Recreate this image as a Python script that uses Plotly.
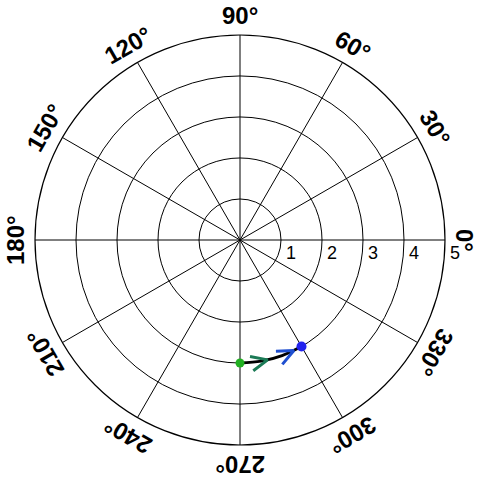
import math
import plotly.graph_objects as go

# ---- data ----
angle_ticks = [0, 30, 60, 90, 120, 150, 180, 210, 240, 270, 300, 330]
angle_labels = [f"{a}°" for a in angle_ticks]
radial_ticks = [1, 2, 3, 4, 5]
radial_labels = ["1", "2", "3", "4", "5"]

# trajectory (radius, angle in degrees)
path_r = [3, 3, 3, 3]
path_theta = [270, 280, 290, 300]

start_point = {"r": 3, "theta": 270}
end_point = {"r": 3, "theta": 300}

# arrow heads along the path: tip positions
arrow_r = [3, 3]
arrow_theta = [283, 296]
arrow_colors = ["#1b7a55", "#1f4fd0"]

# ---- layout constants ----
W = H = 480
R_PX = 205.0          # outer ring radius in px
CX, CY = 240.0, 240.0
RMAX = 5

fig = go.Figure()

fig.add_trace(go.Scatterpolar(
    r=path_r, theta=path_theta, mode="lines",
    line=dict(color="black", width=3, shape="spline"),
    hoverinfo="skip"))

# chevron arrow heads computed from tip and tangent direction
px_per_unit = R_PX / RMAX
L = 18 / px_per_unit
half = math.radians(24)
for r0, t0, col in zip(arrow_r, arrow_theta, arrow_colors):
    th = math.radians(t0)
    px, py = r0 * math.cos(th), r0 * math.sin(th)
    bx, by = math.sin(th), -math.cos(th)   # backwards along the path
    pts = []
    for s in (1, -1):
        c, sn = math.cos(s * half), math.sin(s * half)
        wx = px + L * (bx * c - by * sn)
        wy = py + L * (bx * sn + by * c)
        pts.append((math.hypot(wx, wy), math.degrees(math.atan2(wy, wx)) % 360))
    rr = [pts[0][0], r0, pts[1][0]]
    tt = [pts[0][1], t0, pts[1][1]]
    fig.add_trace(go.Scatterpolar(
        r=rr, theta=tt, mode="lines",
        line=dict(color=col, width=3), hoverinfo="skip"))

fig.add_trace(go.Scatterpolar(
    r=[start_point["r"]], theta=[start_point["theta"]], mode="markers",
    marker=dict(color="#22b022", size=9, line=dict(width=0)), hoverinfo="skip"))
fig.add_trace(go.Scatterpolar(
    r=[end_point["r"]], theta=[end_point["theta"]], mode="markers",
    marker=dict(color="#2222ee", size=10, line=dict(width=0)), hoverinfo="skip"))

# angular labels, rotated tangentially
LABEL_R = 225.0
annotations = []
for a, lab in zip(angle_ticks, angle_labels):
    ang = math.radians(a)
    x = (CX + LABEL_R * math.cos(ang)) / W
    y = 1 - (CY - LABEL_R * math.sin(ang)) / H
    ta = 90 - a
    while ta > 180:
        ta -= 360
    while ta <= -180:
        ta += 360
    annotations.append(dict(
        x=x, y=y, xref="paper", yref="paper", text=f"<b>{lab}</b>",
        showarrow=False, textangle=ta, xanchor="center", yanchor="middle",
        font=dict(family="Liberation Sans, Arial, sans-serif", size=24, color="black")))

# radial labels just right of each ring, below the 0° line
for v, lab in zip(radial_ticks, radial_labels):
    x = (CX + v * px_per_unit + 3) / W
    y = 1 - (CY + 13) / H
    annotations.append(dict(
        x=x, y=y, xref="paper", yref="paper", text=lab, showarrow=False,
        xanchor="left", yanchor="middle",
        font=dict(family="Liberation Sans, Arial, sans-serif", size=18, color="black")))

d0x = (CX - R_PX) / W
d1x = (CX + R_PX) / W
d0y = 1 - (CY + R_PX) / H
d1y = 1 - (CY - R_PX) / H
fig.update_layout(
    width=W, height=H, margin=dict(l=0, r=0, t=0, b=0),
    paper_bgcolor="white", plot_bgcolor="white", showlegend=False,
    hovermode=False,
    polar=dict(
        domain=dict(x=[d0x, d1x], y=[d0y, d1y]),
        bgcolor="white",
        radialaxis=dict(range=[0, RMAX], tickvals=radial_ticks, showticklabels=False,
                        ticks="", showline=False, gridcolor="black", gridwidth=1.2,
                        layer="above traces"),
        angularaxis=dict(tickvals=angle_ticks, showticklabels=False, ticks="",
                         direction="counterclockwise", rotation=0,
                         showline=True, linecolor="black", linewidth=1.2,
                         gridcolor="black", gridwidth=1.2, layer="above traces"),
    ),
    annotations=annotations,
)

fig.write_html(
    "out.html",
    config={"displayModeBar": False},
    post_script="document.body.style.margin='0';document.body.style.overflow='hidden';",
)
